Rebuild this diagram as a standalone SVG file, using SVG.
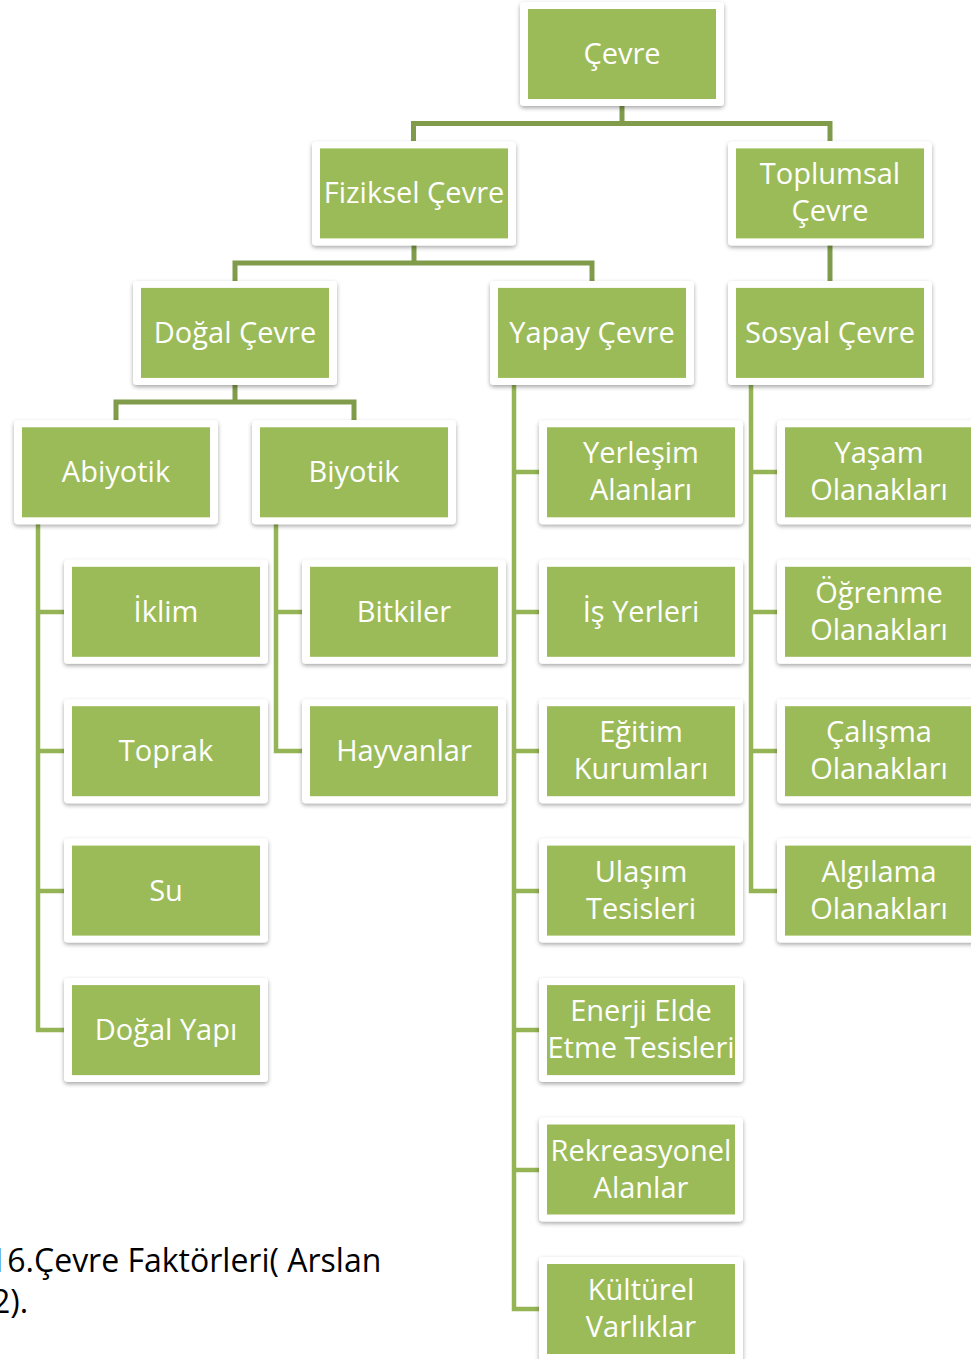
<svg xmlns="http://www.w3.org/2000/svg" width="971" height="1359" viewBox="0 0 971 1359">
<defs>
<filter id="sh" x="-10%" y="-10%" width="120%" height="130%">
<feDropShadow dx="0" dy="2" stdDeviation="2" flood-color="#000" flood-opacity="0.35"/>
</filter>
<style>
.o{fill:#fff;filter:url(#sh)}
.i{fill:#9BBB59}
.t{font-family:"Open Sans","Noto Sans",sans-serif;font-size:29px;fill:#fff;text-anchor:middle}
.c1{fill:none;stroke:#809B4A;stroke-width:5}
.c2{fill:none;stroke:#94B455;stroke-width:4.5}
.cap{font-family:"Open Sans","Noto Sans",sans-serif;font-size:32px;fill:#000}
</style>
</defs>
<rect width="971" height="1359" fill="#fff"/>
<g id="connectors">
<path class="c1" d="M622,106 V123.5 M413.5,141 V123.5 H830 V141"/>
<path class="c1" d="M414,245 V263 M235,281 V263 H592 V281"/>
<path class="c1" d="M830,245 V281"/>
<path class="c1" d="M235,385 V402 M116,420 V402 H354 V420"/>
<path class="c2" d="M38,524 V1030 H64 M38,612 H64 M38,751 H64 M38,891 H64"/>
<path class="c2" d="M276,524 V751 H302 M276,612 H302"/>
<path class="c2" d="M514,385 V1309 H539 M514,472 H539 M514,612 H539 M514,751 H539 M514,891 H539 M514,1030 H539 M514,1170 H539"/>
<path class="c2" d="M751,385 V891 H777 M751,472 H777 M751,612 H777 M751,751 H777"/>
</g>
<g id="n-cevre"><rect class="o" x="520" y="2" width="204" height="104" rx="4"/><rect class="i" x="528" y="9" width="188" height="90"/><text class="t" x="622" y="64">Çevre</text></g>
<g id="n-fiziksel"><rect class="o" x="312" y="141.4" width="204" height="104" rx="4"/><rect class="i" x="320" y="148.4" width="188" height="90"/><text class="t" x="414" y="203.4">Fiziksel Çevre</text></g>
<g id="n-toplumsal"><rect class="o" x="728" y="141.4" width="204" height="104" rx="4"/><rect class="i" x="736" y="148.4" width="188" height="90"/><text class="t" x="830" y="184.4">Toplumsal</text><text class="t" x="830" y="221.4">Çevre</text></g>
<g id="n-dogal"><rect class="o" x="133" y="280.9" width="204" height="104" rx="4"/><rect class="i" x="141" y="287.9" width="188" height="90"/><text class="t" x="235" y="342.9">Doğal Çevre</text></g>
<g id="n-yapay"><rect class="o" x="490" y="280.9" width="204" height="104" rx="4"/><rect class="i" x="498" y="287.9" width="188" height="90"/><text class="t" x="592" y="342.9">Yapay Çevre</text></g>
<g id="n-sosyal"><rect class="o" x="728" y="280.9" width="204" height="104" rx="4"/><rect class="i" x="736" y="287.9" width="188" height="90"/><text class="t" x="830" y="342.9">Sosyal Çevre</text></g>
<g id="n-abiyotik"><rect class="o" x="14" y="420.3" width="204" height="104" rx="4"/><rect class="i" x="22" y="427.3" width="188" height="90"/><text class="t" x="116" y="482.3">Abiyotik</text></g>
<g id="n-biyotik"><rect class="o" x="252" y="420.3" width="204" height="104" rx="4"/><rect class="i" x="260" y="427.3" width="188" height="90"/><text class="t" x="354" y="482.3">Biyotik</text></g>
<g id="n-yerlesim"><rect class="o" x="539" y="420.3" width="204" height="104" rx="4"/><rect class="i" x="547" y="427.3" width="188" height="90"/><text class="t" x="641" y="463.3">Yerleşim</text><text class="t" x="641" y="500.3">Alanları</text></g>
<g id="n-yasam"><rect class="o" x="777" y="420.3" width="204" height="104" rx="4"/><rect class="i" x="785" y="427.3" width="188" height="90"/><text class="t" x="879" y="463.3">Yaşam</text><text class="t" x="879" y="500.3">Olanakları</text></g>
<g id="n-iklim"><rect class="o" x="64" y="559.8" width="204" height="104" rx="4"/><rect class="i" x="72" y="566.8" width="188" height="90"/><text class="t" x="166" y="621.8">İklim</text></g>
<g id="n-bitkiler"><rect class="o" x="302" y="559.8" width="204" height="104" rx="4"/><rect class="i" x="310" y="566.8" width="188" height="90"/><text class="t" x="404" y="621.8">Bitkiler</text></g>
<g id="n-isyerleri"><rect class="o" x="539" y="559.8" width="204" height="104" rx="4"/><rect class="i" x="547" y="566.8" width="188" height="90"/><text class="t" x="641" y="621.8">İş Yerleri</text></g>
<g id="n-ogrenme"><rect class="o" x="777" y="559.8" width="204" height="104" rx="4"/><rect class="i" x="785" y="566.8" width="188" height="90"/><text class="t" x="879" y="602.8">Öğrenme</text><text class="t" x="879" y="639.8">Olanakları</text></g>
<g id="n-toprak"><rect class="o" x="64" y="699.2" width="204" height="104" rx="4"/><rect class="i" x="72" y="706.2" width="188" height="90"/><text class="t" x="166" y="761.2">Toprak</text></g>
<g id="n-hayvanlar"><rect class="o" x="302" y="699.2" width="204" height="104" rx="4"/><rect class="i" x="310" y="706.2" width="188" height="90"/><text class="t" x="404" y="761.2">Hayvanlar</text></g>
<g id="n-egitim"><rect class="o" x="539" y="699.2" width="204" height="104" rx="4"/><rect class="i" x="547" y="706.2" width="188" height="90"/><text class="t" x="641" y="742.2">Eğitim</text><text class="t" x="641" y="779.2">Kurumları</text></g>
<g id="n-calisma"><rect class="o" x="777" y="699.2" width="204" height="104" rx="4"/><rect class="i" x="785" y="706.2" width="188" height="90"/><text class="t" x="879" y="742.2">Çalışma</text><text class="t" x="879" y="779.2">Olanakları</text></g>
<g id="n-su"><rect class="o" x="64" y="838.6" width="204" height="104" rx="4"/><rect class="i" x="72" y="845.6" width="188" height="90"/><text class="t" x="166" y="900.6">Su</text></g>
<g id="n-ulasim"><rect class="o" x="539" y="838.6" width="204" height="104" rx="4"/><rect class="i" x="547" y="845.6" width="188" height="90"/><text class="t" x="641" y="881.6">Ulaşım</text><text class="t" x="641" y="918.6">Tesisleri</text></g>
<g id="n-algilama"><rect class="o" x="777" y="838.6" width="204" height="104" rx="4"/><rect class="i" x="785" y="845.6" width="188" height="90"/><text class="t" x="879" y="881.6">Algılama</text><text class="t" x="879" y="918.6">Olanakları</text></g>
<g id="n-dogalyapi"><rect class="o" x="64" y="978.1" width="204" height="104" rx="4"/><rect class="i" x="72" y="985.1" width="188" height="90"/><text class="t" x="166" y="1040.1">Doğal Yapı</text></g>
<g id="n-enerji"><rect class="o" x="539" y="978.1" width="204" height="104" rx="4"/><rect class="i" x="547" y="985.1" width="188" height="90"/><text class="t" x="641" y="1021.1">Enerji Elde</text><text class="t" x="641" y="1058.1">Etme Tesisleri</text></g>
<g id="n-rekreasyonel"><rect class="o" x="539" y="1117.5" width="204" height="104" rx="4"/><rect class="i" x="547" y="1124.5" width="188" height="90"/><text class="t" x="641" y="1160.5">Rekreasyonel</text><text class="t" x="641" y="1197.5">Alanlar</text></g>
<g id="n-kulturel"><rect class="o" x="539" y="1257" width="204" height="104" rx="4"/><rect class="i" x="547" y="1264" width="188" height="90"/><text class="t" x="641" y="1300">Kültürel</text><text class="t" x="641" y="1337">Varlıklar</text></g>
<g id="caption">
<text class="cap" x="-11" y="1272">16.Çevre Faktörleri( Arslan</text>
<text class="cap" x="-8" y="1313">2).</text>
</g>
</svg>
